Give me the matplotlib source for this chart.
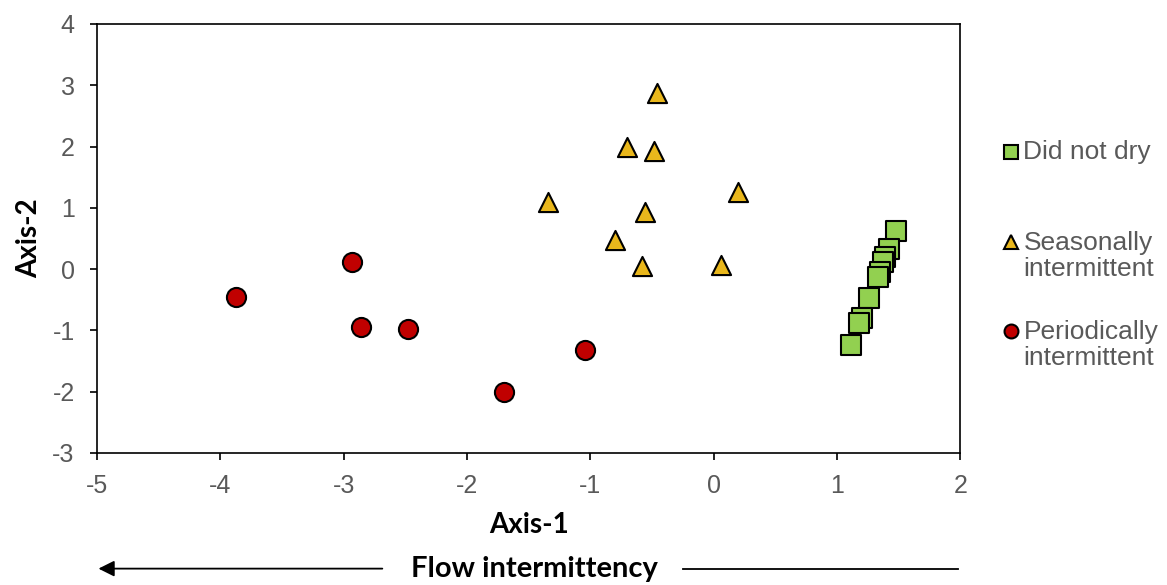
import matplotlib.pyplot as plt
from matplotlib.lines import Line2D

plt.rcParams["font.family"] = ["Liberation Sans", "DejaVu Sans"]
plt.rcParams["axes.unicode_minus"] = False

# Did not dry
dry_x = [1.48, 1.42, 1.39, 1.37, 1.35, 1.33, 1.26, 1.20, 1.18, 1.11]
dry_y = [0.62, 0.32, 0.20, 0.12, -0.05, -0.13, -0.48, -0.80, -0.88, -1.24]

# Seasonally intermittent
seas_x = [-0.46, -0.70, -0.48, -1.34, 0.20, -0.56, -0.80, -0.58, 0.06]
seas_y = [2.87, 2.00, 1.93, 1.10, 1.25, 0.93, 0.48, 0.05, 0.06]

# Periodically intermittent
per_x = [-3.87, -2.93, -2.86, -2.48, -1.04, -1.70]
per_y = [-0.46, 0.11, -0.94, -0.98, -1.33, -2.00]

labels = ["Did not dry", "Seasonally\nintermittent", "Periodically\nintermittent"]
xticks = [-5, -4, -3, -2, -1, 0, 1, 2]
yticks = [-3, -2, -1, 0, 1, 2, 3, 4]

fig = plt.figure(figsize=(11.67, 5.85), dpi=100)
ax = fig.add_axes([0.083, 0.226, 0.74, 0.733])

styles = [("s", "#92D050"), ("^", "#E9B71C"), ("o", "#C00000")]
series = [(dry_x, dry_y), (seas_x, seas_y), (per_x, per_y)]
for (mk, col), (xs, ys) in zip(styles, series):
    ax.scatter(xs, ys, marker=mk, s=190, c=col, edgecolors="black",
               linewidths=1.5, zorder=3)

ax.set_xlim(-5, 2)
ax.set_ylim(-3, 4)
ax.set_xticks(xticks)
ax.set_yticks(yticks)
ax.tick_params(labelsize=18, labelcolor="#595959", direction="out", length=5,
               width=1.2)
ax.tick_params(axis="x", pad=10)
ax.tick_params(axis="y", pad=11)
for sp in ax.spines.values():
    sp.set_linewidth(1.2)

ax.set_xlabel("Axis-1", fontsize=20, fontweight="bold", family="Lato", labelpad=10)
ax.set_ylabel("Axis-2", fontsize=20, fontweight="bold", family="Lato", labelpad=7)

# legend drawn by hand (Excel puts uneven gaps between entries)
mark_y = [0.740, 0.586, 0.434]
text_y = [0.740, 0.562, 0.410]
for (mk, col), lab, my, ty in zip(styles, labels, mark_y, text_y):
    fig.add_artist(Line2D([0.866], [my], marker=mk, markersize=10,
                          markerfacecolor=col, markeredgecolor="black",
                          markeredgewidth=1.5, linestyle="none"))
    fig.text(0.877, ty, lab, fontsize=19, color="#595959", va="center",
             ha="left", linespacing=1.12)

# flow intermittency arrow
fig.text(0.458, 0.028, "Flow intermittency", fontsize=21, fontweight="bold",
         family="Lato", ha="center", va="center")
fig.add_artist(Line2D([0.585, 0.821], [0.028, 0.028], color="black", lw=1.3))
ax.annotate("", xy=(0.082, 0.028), xytext=(0.33, 0.028),
            xycoords="figure fraction", textcoords="figure fraction",
            arrowprops=dict(arrowstyle="-|>", color="black", lw=1.3,
                            mutation_scale=24))

fig.savefig("out.png", dpi=100)
